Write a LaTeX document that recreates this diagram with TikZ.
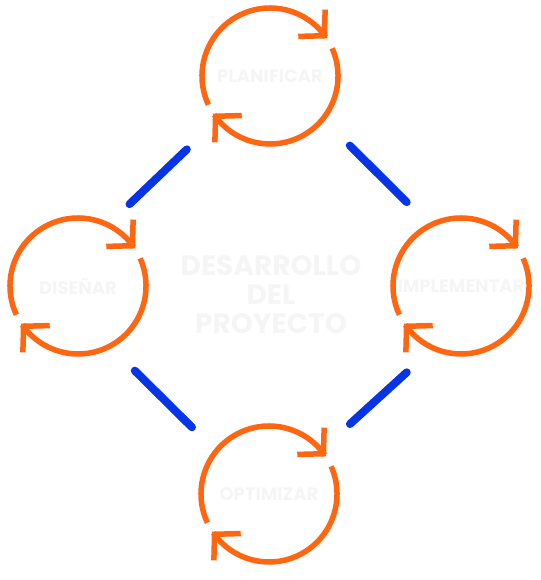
\documentclass[tikz,border=0pt]{standalone}
\usepackage{fontspec}
\setmainfont{Poppins}
\usetikzlibrary{arrows.meta}
\definecolor{cycleorange}{RGB}{255,102,17}
\definecolor{linkblue}{RGB}{8,52,232}
\definecolor{ghost}{RGB}{245,245,245}

\begin{document}
\begin{tikzpicture}
    [
        Stage/.style={circle,minimum size=136pt,inner sep=0pt,outer sep=0pt,font=\fontsize{18}{20}\selectfont\bfseries,text=ghost},
        Title/.style={align=center,font=\fontsize{28}{29}\selectfont\bfseries,text=ghost},
        Cycle/.style={draw=cycleorange,line width=5.5pt,-{Straight Barb[length=18pt,width=38pt,line join=miter,line cap=butt]}},
        Link/.style={draw=linkblue,line width=8pt,line cap=round}
    ]

    \useasboundingbox (0,0) rectangle (540pt,580pt);

    \node[Stage] (planificar) at (270pt,504pt) {PLANIFICAR};
    \node[Stage] (disenar) at (78pt,294pt) {DISEÑAR};
    \node[Stage] (implementar) at (461pt,294pt) {IMPLEMENTAR};
    \node[Stage] (optimizar) at (269pt,86pt) {OPTIMIZAR};

    \node[Title] (desarrollo_del_proyecto) at (271pt,285pt) {DESARROLLO\\DEL\\PROYECTO};

    % two arrowed arcs round each stage, last bit squares the barb
    \foreach \stage in {planificar,disenar,implementar,optimizar}
    {
        \draw[Cycle] (\stage.205) arc[start angle=205,end angle=35,radius=68pt] -- ++(-45:2pt);
        \draw[Cycle] (\stage.24) arc[start angle=24,end angle=-145,radius=68pt] -- ++(135:2pt);
    }

    \draw[Link,shorten <=43pt,shorten >=30pt] (planificar.220) -- (disenar.64);
    \draw[Link,shorten <=38pt,shorten >=33pt] (planificar.-39) -- (implementar.117);
    \draw[Link,shorten <=35pt,shorten >=34pt] (disenar.-62) -- (optimizar.141);
    \draw[Link,shorten <=39pt,shorten >=36pt] (optimizar.40) -- (implementar.-114);
\end{tikzpicture}
\end{document}
